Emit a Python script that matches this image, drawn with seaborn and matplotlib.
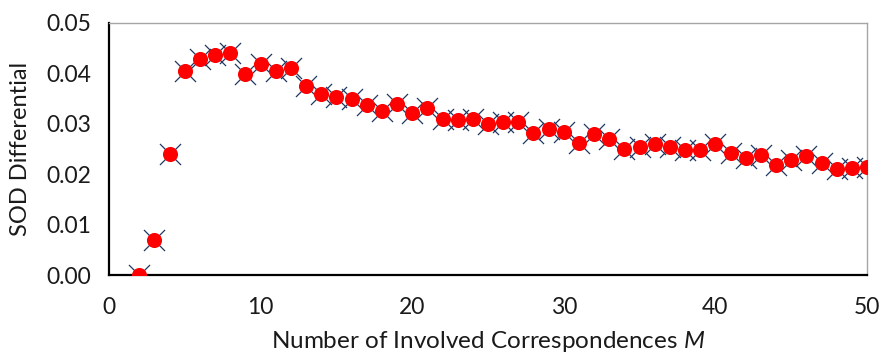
import matplotlib
matplotlib.use("Agg")
import matplotlib.pyplot as plt
import seaborn as sns
import pandas as pd

# Number of involved correspondences
M = list(range(2, 51))

# SOD differential for each M
sod_diff = [
    0.0000, 0.0070, 0.0241, 0.0405, 0.0428, 0.0436, 0.0441, 0.0399, 0.0418,
    0.0405, 0.0411, 0.0374, 0.0359, 0.0353, 0.0349, 0.0337, 0.0326, 0.0339,
    0.0322, 0.0332, 0.0309, 0.0308, 0.0310, 0.0300, 0.0303, 0.0304, 0.0281,
    0.0290, 0.0284, 0.0262, 0.0279, 0.0270, 0.0250, 0.0253, 0.0259, 0.0253,
    0.0248, 0.0247, 0.0260, 0.0242, 0.0233, 0.0239, 0.0219, 0.0228, 0.0236,
    0.0222, 0.0210, 0.0212, 0.0215,
]

x_ticks = [0, 10, 20, 30, 40, 50]
y_ticks = [0.00, 0.01, 0.02, 0.03, 0.04, 0.05]
y_tick_labels = ["0.00", "0.01", "0.02", "0.03", "0.04", "0.05"]

df = pd.DataFrame({"M": M, "sod": sod_diff})

sns.set_style("white")
plt.rcParams["font.family"] = ["Lato", "DejaVu Sans"]
plt.rcParams["mathtext.fontset"] = "custom"
plt.rcParams["mathtext.rm"] = "Lato"
plt.rcParams["mathtext.it"] = "Lato:italic"

fig = plt.figure(figsize=(8.82, 3.56), dpi=100)
ax = fig.add_axes([0.1236, 0.2275, 0.8594, 0.708])

sns.scatterplot(data=df, x="M", y="sod", marker="x", s=230, color="#1f3864",
                linewidth=0.9, ax=ax, zorder=3, legend=False)
sns.scatterplot(data=df, x="M", y="sod", marker="o", s=118, color="#ff0000",
                linewidth=0, ax=ax, zorder=4, legend=False)

ax.set_xlim(0, 50)
ax.set_ylim(0, 0.05)
ax.set_xticks(x_ticks)
ax.set_yticks(y_ticks)
ax.set_yticklabels(y_tick_labels)

for side in ("left", "bottom"):
    ax.spines[side].set_color("black")
    ax.spines[side].set_linewidth(1.6)
for side in ("top", "right"):
    ax.spines[side].set_visible(True)
    ax.spines[side].set_color("#a6a6a6")
    ax.spines[side].set_linewidth(1.0)

ax.tick_params(axis="both", direction="inout", length=12, width=1.2,
               color="black", labelsize=16.5, labelcolor="#1a1a1a")
ax.tick_params(axis="x", pad=10)
ax.tick_params(axis="y", pad=7)

ax.set_xlabel("Number of Involved Correspondences $\\mathit{M}$", fontsize=17.5,
              color="#1a1a1a")
ax.set_ylabel("SOD Differential", fontsize=17, color="#1a1a1a")
ax.xaxis.set_label_coords(0.5, -0.215)
ax.yaxis.set_label_coords(-0.117, 0.5)
ax.yaxis.label.set_verticalalignment("center")

fig.savefig("out.png", dpi=100)
